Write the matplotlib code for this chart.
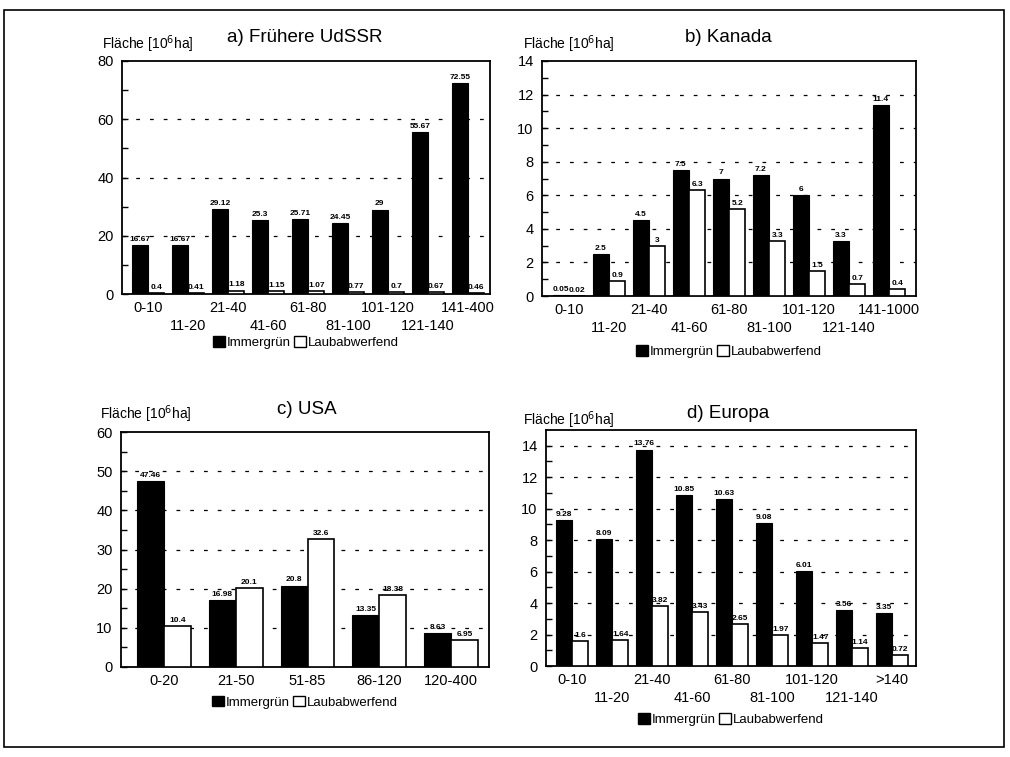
import matplotlib
matplotlib.use("Agg")
import matplotlib.pyplot as plt
from matplotlib.patches import Patch, Rectangle
import numpy as np

plt.rcParams['font.family'] = ['Liberation Sans', 'DejaVu Sans']

# ---------------- data ----------------
udssr_cats = ["0-10", "11-20", "21-40", "41-60", "61-80", "81-100", "101-120", "121-140", "141-400"]
udssr_immer = [16.67, 16.67, 29.12, 25.3, 25.71, 24.45, 29, 55.67, 72.55]
udssr_laub = [0.4, 0.41, 1.18, 1.15, 1.07, 0.77, 0.7, 0.67, 0.46]

kanada_cats = ["0-10", "11-20", "21-40", "41-60", "61-80", "81-100", "101-120", "121-140", "141-1000"]
kanada_immer = [0.05, 2.5, 4.5, 7.5, 7, 7.2, 6, 3.3, 11.4]
kanada_laub = [0.02, 0.9, 3, 6.3, 5.2, 3.3, 1.5, 0.7, 0.4]

usa_cats = ["0-20", "21-50", "51-85", "86-120", "120-400"]
usa_immer = [47.46, 16.98, 20.8, 13.35, 8.63]
usa_laub = [10.4, 20.1, 32.6, 18.38, 6.95]

europa_cats = ["0-10", "11-20", "21-40", "41-60", "61-80", "81-100", "101-120", "121-140", ">140"]
europa_immer = [9.28, 8.09, 13.76, 10.85, 10.63, 9.08, 6.01, 3.56, 3.35]
europa_laub = [1.6, 1.64, 3.82, 3.43, 2.65, 1.97, 1.47, 1.14, 0.72]

W, H = 1010, 757
fig = plt.figure(figsize=(W / 100, H / 100), dpi=100)

# outer frame
fig.add_artist(Rectangle((4 / W, 1 - 747 / H), 1000 / W, 737 / H, transform=fig.transFigure,
                         fill=False, edgecolor='black', linewidth=1.2))


def px_axes(l, t, r, b):
    return fig.add_axes([l / W, 1 - b / H, (r - l) / W, (b - t) / H])


def panel(box, cats, immer, laub, ylim, major, minor, xlim, width, title, title_xy,
          ylab_xy, leg_y, stagger, tick_pad=(5, 18)):
    ax = px_axes(*box)
    x = np.arange(len(cats))
    ax.bar(x - width / 2, immer, width, color='black', edgecolor='black', linewidth=0.8, zorder=3)
    ax.bar(x + width / 2, laub, width, color='white', edgecolor='black', linewidth=1.2, zorder=3)
    for xi, v in zip(x - width / 2, immer):
        ax.annotate(f"{v:g}", (xi, v), xytext=(0, 1.5), textcoords='offset points',
                    ha='center', va='bottom', fontsize=6, fontweight='bold')
    for xi, v in zip(x + width / 2, laub):
        ax.annotate(f"{v:g}", (xi, v), xytext=(0, 1.5), textcoords='offset points',
                    ha='center', va='bottom', fontsize=6, fontweight='bold')
    ax.set_ylim(*ylim)
    ax.set_xlim(*xlim)
    ax.set_yticks(major)
    ax.set_yticks(minor, minor=True)
    ax.tick_params(axis='y', which='both', direction='in', length=4, width=1, labelsize=10.5, pad=6)
    for g in major:
        if 0 < g < ylim[1]:
            ax.axhline(g, color='black', linestyle=(0, (3, 8)), linewidth=0.9, zorder=1)
    if stagger:
        ax.set_xticks(x[0::2])
        ax.set_xticklabels(cats[0::2])
        ax.set_xticks(x[1::2], minor=True)
        ax.set_xticklabels(cats[1::2], minor=True)
        ax.tick_params(axis='x', which='major', length=0, labelsize=10.5, pad=tick_pad[0])
        ax.tick_params(axis='x', which='minor', length=0, labelsize=10.5, pad=tick_pad[1])
    else:
        ax.set_xticks(x)
        ax.set_xticklabels(cats)
        ax.tick_params(axis='x', which='both', length=0, labelsize=10.5, pad=5)
    for s in ax.spines.values():
        s.set_linewidth(1.3)
    fig.text(title_xy[0] / W, 1 - title_xy[1] / H, title, ha='center', va='center', fontsize=13.5)
    fig.text(ylab_xy[0] / W, 1 - ylab_xy[1] / H, r"Fläche [10$^{6}$ha]", ha='left', va='center', fontsize=10)
    handles = [Patch(facecolor='black', edgecolor='black'),
               Patch(facecolor='white', edgecolor='black')]
    ax.legend(handles, ["Immergrün", "Laubabwerfend"], loc='center', bbox_to_anchor=(0.5, leg_y),
              ncol=2, frameon=False, fontsize=9.5, handlelength=0.9, handleheight=0.9,
              handletextpad=0.1, columnspacing=0.3, borderpad=0)
    return ax


panel((122, 61, 490, 294), udssr_cats, udssr_immer, udssr_laub, (0, 80),
      [0, 20, 40, 60, 80], [10, 30, 50, 70], (-0.65, 8.55), 0.41,
      "a) Frühere UdSSR", (305, 37), (102, 44), -0.21, True)

panel((542, 61, 916, 296), kanada_cats, kanada_immer, kanada_laub, (0, 14),
      [0, 2, 4, 6, 8, 10, 12, 14], [1, 3, 5, 7, 9, 11, 13], (-0.675, 8.675), 0.41,
      "b) Kanada", (728, 38), (523, 44), -0.238, True)

panel((121, 432, 489, 667), usa_cats, usa_immer, usa_laub, (0, 60),
      [0, 10, 20, 30, 40, 50, 60], [5, 15, 25, 35, 45, 55], (-0.6, 4.53), 0.376,
      "c) USA", (307, 409), (100, 414), -0.149, False)

panel((546, 430, 916, 666), europa_cats, europa_immer, europa_laub, (0, 15),
      [0, 2, 4, 6, 8, 10, 12, 14], [1, 3, 5, 7, 9, 11, 13], (-0.65, 8.6), 0.41,
      "d) Europa", (728, 414), (523, 420), -0.225, True)

fig.savefig("out.png", dpi=100)
